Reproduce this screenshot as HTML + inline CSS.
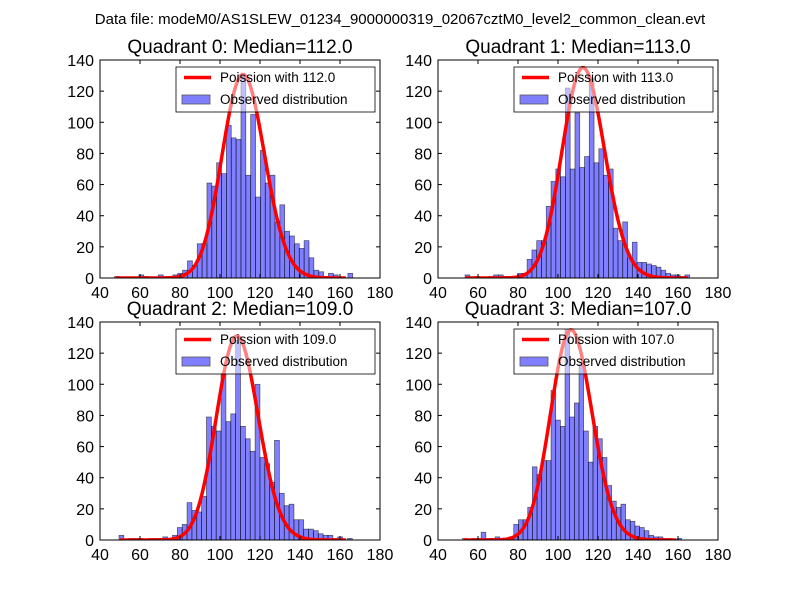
<!DOCTYPE html>
<html><head><meta charset="utf-8"><style>
body{margin:0;background:#fff}
svg{display:block;font-family:"Liberation Sans","DejaVu Sans",sans-serif}
</style></head><body>
<svg id="chart" width="800" height="600" viewBox="0 0 800 600">
<rect width="800" height="600" fill="#fff"/>
<text x="400" y="24" font-size="15" text-anchor="middle">Data file: modeM0/AS1SLEW_01234_9000000319_02067cztM0_level2_common_clean.evt</text>
</svg>
<script>
const medians = [112.0, 113.0, 109.0, 107.0];
const binStarts = [47.3, 53.5, 49.5, 52.25];
const binWidths = [2.43, 2.39, 2.43, 2.33];
const curveNorm = [3470, 3600, 3430, 3500];
const counts0 = [1,0,0,0,0,2,1,0,0,2,0,0,2,3,5,11,8,22,22,61,59,74,67,98,90,89,130,66,105,52,82,61,66,36,47,30,27,22,19,24,13,5,4,1,3,2,0,0,3];
const counts1 = [2,0,1,0,0,1,2,2,1,1,1,3,3,12,18,24,24,46,62,70,65,122,70,106,71,78,128,74,83,66,70,32,24,36,13,23,10,10,9,8,7,5,3,2,2,1,2,0];
const counts2 = [3,0,1,1,1,0,1,1,1,2,1,3,8,10,24,19,18,28,79,73,70,107,76,81,128,73,65,57,100,53,49,37,64,30,22,23,13,13,7,7,6,4,3,3,1,2,0,1];
const counts3 = [1,0,1,1,5,1,1,2,0,1,2,10,13,13,21,47,42,51,51,96,77,73,135,79,88,113,70,50,73,65,53,35,25,21,23,13,12,9,8,6,3,2,2,1,1,0,1];
const xTicks = [40,60,80,100,120,140,160,180];
const yTicks = [0,20,40,60,80,100,120,140];

const allCounts = [counts0, counts1, counts2, counts3];
const boxes = [[100,60],[438,60],[100,322],[438,322]];
const W = 280, H = 218;
const svg = document.getElementById('chart');
const NS = 'http://www.w3.org/2000/svg';
function mk(tag, attrs, parent){const e=document.createElementNS(NS,tag);for(const k in attrs)e.setAttribute(k,attrs[k]);(parent||svg).appendChild(e);return e;}
function logFact(k){let s=0;for(let i=2;i<=k;i++)s+=Math.log(i);return s;}
function pmf(k,l){return Math.exp(k*Math.log(l)-l-logFact(Math.round(k)));}
const defs=mk('defs',{});

for(let q=0;q<4;q++){
  const [x0,y0]=boxes[q];
  const sx=v=>x0+(v-40)/140*W;
  const sy=v=>y0+H-v/140*H;
  const cp=mk('clipPath',{id:'clip'+q},defs);
  mk('rect',{x:x0,y:y0,width:W,height:H},cp);
  const g=mk('g',{});
  
  
  const t=mk('text',{x:x0+W/2,y:y0-7,'font-size':19,'text-anchor':'middle'},g);
  t.textContent='Quadrant '+q+': Median='+medians[q].toFixed(1);
  
  
  const c=allCounts[q], bs=binStarts[q], bw=binWidths[q];
  const plot=mk('g',{'clip-path':'url(#clip'+q+')'},g);
  c.forEach((v,i)=>{
    if(v<=0)return;
    const r=mk('rect',{x:sx(bs+i*bw),y:sy(v),width:sx(bs+(i+1)*bw)-sx(bs+i*bw),height:sy(0)-sy(v),fill:'rgba(0,0,255,0.5)',stroke:'#000','stroke-width':0.7,'stroke-opacity':0.6},plot);
    
    
  });
  const lam=medians[q];
  let pts=[];
  const endX=bs+(c.length-1)*bw;
  for(let k=Math.ceil(bs);k<=endX;k++){pts.push(sx(k).toFixed(1)+','+sy(curveNorm[q]*pmf(k,lam)).toFixed(1));}
  const pl=mk('polyline',{points:pts.join(' '),fill:'none',stroke:'#ff0000','stroke-width':3.5,'stroke-linejoin':'round'},plot);
  
  
  mk('rect',{x:x0,y:y0,width:W,height:H,fill:'none',stroke:'#000','stroke-width':1},g);
  xTicks.forEach(v=>{
    mk('line',{x1:sx(v),x2:sx(v),y1:y0+H,y2:y0+H-4,stroke:'#000'},g);
    mk('line',{x1:sx(v),x2:sx(v),y1:y0,y2:y0+4,stroke:'#000'},g);
    const tl=mk('text',{x:sx(v),y:y0+H+20,'font-size':16,'text-anchor':'middle'},g);
    tl.textContent=v;
    
    
  });
  yTicks.forEach(v=>{
    mk('line',{x1:x0,x2:x0+4,y1:sy(v),y2:sy(v),stroke:'#000'},g);
    mk('line',{x1:x0+W,x2:x0+W-4,y1:sy(v),y2:sy(v),stroke:'#000'},g);
    const tl=mk('text',{x:x0-6,y:sy(v)+6,'font-size':16,'text-anchor':'end'},g);
    tl.textContent=v;
    
    
  });
  const lg=mk('g',{},g);
  
  
  mk('rect',{x:x0+76,y:y0+7,width:199,height:45,fill:'rgba(255,255,255,0.5)',stroke:'#000','stroke-width':0.8},lg);
  mk('line',{x1:x0+84,x2:x0+111,y1:y0+17.5,y2:y0+17.5,stroke:'#ff0000','stroke-width':3.5},lg);
  const l1=mk('text',{x:x0+120,y:y0+22,'font-size':13.5},lg);
  l1.textContent='Poission with '+medians[q].toFixed(1);
  
  
  mk('rect',{x:x0+82,y:y0+35,width:28,height:9,fill:'rgba(0,0,255,0.5)',stroke:'#555','stroke-width':0.8},lg);
  const l2=mk('text',{x:x0+120,y:y0+44,'font-size':13.5},lg);
  l2.textContent='Observed distribution';
  
  
}
</script>
</body></html>
